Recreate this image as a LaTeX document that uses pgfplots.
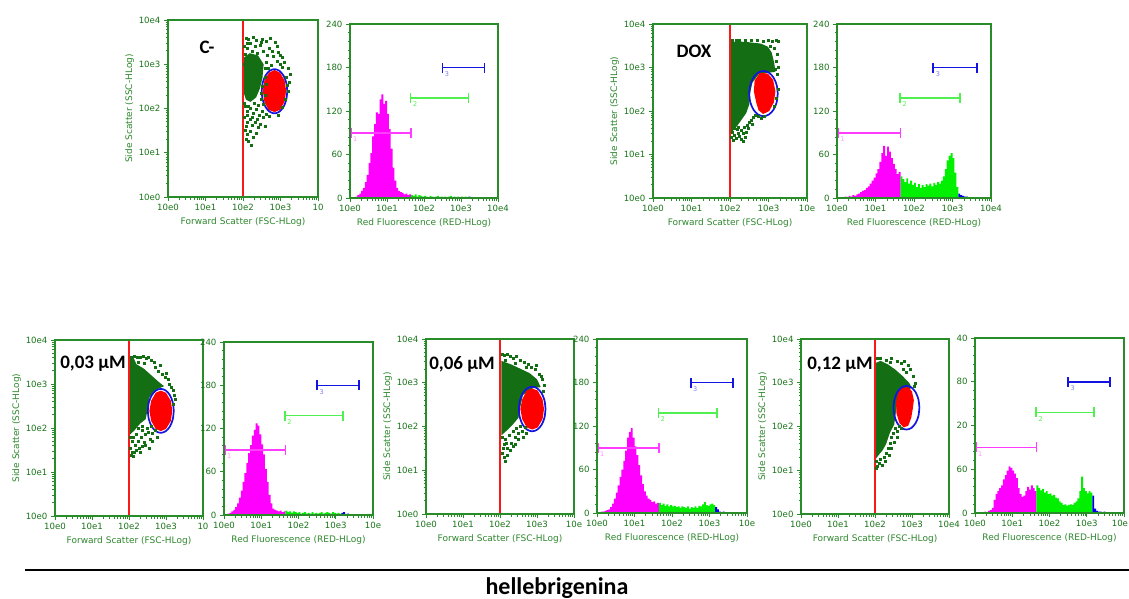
\documentclass[border=0pt]{standalone}
\usepackage{fontspec}
\setmainfont{Carlito}
\newfontfamily\dv{DejaVu Sans}
\usepackage{pgfplots}
\pgfplotsset{compat=1.18}

\definecolor{axg}{RGB}{40,140,40}
\definecolor{txg}{RGB}{25,115,25}
\definecolor{labg}{RGB}{45,135,45}
\definecolor{dotg}{RGB}{20,110,20}
\definecolor{hmag}{RGB}{255,0,255}
\definecolor{hgrn}{RGB}{0,240,0}
\definecolor{hblu}{RGB}{0,0,230}
\definecolor{gmag}{RGB}{255,60,255}
\definecolor{ggrn}{RGB}{80,240,80}
\definecolor{gblu}{RGB}{20,20,225}
\definecolor{rline}{RGB}{250,25,25}
\definecolor{rblob}{RGB}{255,0,0}

\pgfplotsset{
  fcs/.style={scale only axis, axis on top, xmin=0, xmax=4,
    axis line style={draw=axg, line width=1.3pt},
    tick style={draw=axg, line width=0.9pt},
    tick align=outside, tick pos=left,
    major tick length=4pt, minor tick length=2.5pt,
    tick label style={font=\dv\fontsize{8.6}{9}\selectfont, text=txg},
    label style={font=\dv\fontsize{9}{10}\selectfont, text=labg},
    xtick={0,1,2,3,4},
    minor xtick={0.301,0.477,0.602,0.699,0.778,0.845,0.903,0.954,
      1.301,1.477,1.602,1.699,1.778,1.845,1.903,1.954,
      2.301,2.477,2.602,2.699,2.778,2.845,2.903,2.954,
      3.301,3.477,3.602,3.699,3.778,3.845,3.903,3.954},
  },
  scat/.style={fcs, ymin=0, ymax=4, ytick={0,1,2,3,4},
    yticklabels={10e0,10e1,10e2,10e3,10e4},
    minor ytick={0.301,0.477,0.602,0.699,0.778,0.845,0.903,0.954,
      1.301,1.477,1.602,1.699,1.778,1.845,1.903,1.954,
      2.301,2.477,2.602,2.699,2.778,2.845,2.903,2.954,
      3.301,3.477,3.602,3.699,3.778,3.845,3.903,3.954},
    xlabel={Forward Scatter (FSC-HLog)}, ylabel={Side Scatter (SSC-HLog)},
    ylabel style={yshift=-2pt}},
  hist/.style={fcs, ymin=0, ymax=240, ytick={0,60,120,180,240},
    minor y tick num=4, xlabel={Red Fluorescence (RED-HLog)}},
  core/.style={fill=dotg, draw=none},
  dots/.style={only marks, mark=square*, mark size=1pt, dotg, mark options={draw=none}},
  blob/.style={fill=rblob, draw=none},
  gateline/.style={draw=rline, line width=1.6pt},
  ell/.style={gblu, line width=1.7pt, smooth},
  hm/.style={fill=hmag, draw=none, const plot mark left},
  hg/.style={fill=hgrn, draw=none, const plot mark left},
  hb/.style={fill=hblu, draw=none, const plot mark left},
}
\newcommand{\gates}{%
  \addplot[gmag, line width=1.5pt, |-|] coordinates {(0,90) (1.67,90)};
  \addplot[ggrn, line width=1.5pt, |-|] coordinates {(1.62,138) (3.22,138)};
  \addplot[gblu, line width=1.5pt, |-|] coordinates {(2.48,180) (3.65,180)};
  \node[font=\dv\fontsize{6.5}{7}\selectfont, text=gmag!55] at (axis cs:0.14,81) {1};
  \node[font=\dv\fontsize{6.5}{7}\selectfont, text=ggrn] at (axis cs:1.76,129) {2};
  \node[font=\dv\fontsize{6.5}{7}\selectfont, text=gblu!55] at (axis cs:2.62,171) {3};
}

\begin{document}
\begin{tikzpicture}
\path[use as bounding box] (0pt,0pt) rectangle (1129pt,-598pt);

% ---------- C- scatter
\begin{axis}[scat, at={(168pt,-197pt)}, anchor=south west, width=150pt, height=177pt,
  xticklabels={10e0,10e1,10e2,10e3,10}]
\addplot[core] coordinates {(2.02,3.15)(2.18,3.25)(2.4,3.2)(2.55,3.0)(2.52,2.7)(2.45,2.45)(2.35,2.25)(2.2,2.15)(2.08,2.2)(2.02,2.35)};
\addplot[dots] coordinates {(2.08,3.60)(2.15,3.57)(2.28,3.62)(2.35,3.54)(2.50,3.56)(2.62,3.52)(2.72,3.58)(2.85,3.50)(2.92,3.40)(2.20,3.47)(2.45,3.42)(2.70,3.36)(2.95,3.28)(3.05,3.15)(3.10,3.04)(3.20,2.90)(3.25,2.78)(3.15,2.70)(3.22,2.60)(2.05,3.22)(2.10,3.36)(2.25,3.30)(2.38,3.26)(2.55,3.30)(2.65,3.20)(2.80,3.18)(2.90,3.08)(2.98,3.00)(3.05,2.94)(2.02,3.00)(2.62,3.05)(2.68,2.90)(2.75,2.98)(2.60,2.70)(2.52,2.50)(2.05,2.05)(2.12,1.95)(2.20,2.00)(2.28,1.90)(2.35,1.98)(2.42,1.85)(2.50,1.95)(2.55,1.80)(2.62,1.88)(2.70,1.82)(2.03,1.80)(2.10,1.70)(2.18,1.75)(2.25,1.62)(2.32,1.70)(2.40,1.58)(2.05,1.50)(2.12,1.42)(2.20,1.48)(2.28,1.35)(2.15,1.25)(2.22,1.17)(2.08,1.30)(2.35,1.45)(2.45,1.65)(2.58,1.60)(3.18,2.52)(3.12,2.22)(3.05,2.02)(2.95,1.85)(3.20,2.38)(2.48,2.20)(2.40,2.08)(2.55,2.10)(2.02,2.12)(2.30,2.12)(2.15,2.05)(3.00,3.20)(2.78,3.30)(2.48,3.50)(2.33,3.40)(2.12,3.48)(2.02,3.40)(2.60,2.90)(2.58,2.30)(2.48,2.35)(2.62,2.55)(2.05,2.60)(2.12,1.85)(2.25,1.80)(2.38,1.75)(2.08,1.60)};
\addplot[blob] coordinates {(3.15,2.40)(3.11,2.63)(2.99,2.81)(2.84,2.87)(2.69,2.81)(2.57,2.63)(2.53,2.40)(2.57,2.15)(2.68,1.97)(2.84,1.92)(2.99,1.97)(3.11,2.16)};
\addplot[gateline] coordinates {(2,0) (2,4)};
\addplot[ell] coordinates {(3.18,2.39)(3.154,2.582)(3.08,2.744)(2.97,2.852)(2.84,2.89)(2.71,2.852)(2.60,2.744)(2.526,2.582)(2.50,2.39)(2.526,2.198)(2.60,2.036)(2.71,1.928)(2.84,1.89)(2.97,1.928)(3.08,2.036)(3.154,2.198)(3.18,2.39)};
\end{axis}

% ---------- C- histogram
\begin{axis}[hist, at={(350pt,-198pt)}, anchor=south west, width=148pt, height=174pt,
  xticklabels={10e0,10e1,10e2,10e3,10e4}, yticklabels={0,60,120,180,240}]
\addplot[hm] coordinates {(0,0)(0.05,0)(0.1,1)(0.15,2)(0.2,4)(0.25,6)(0.3,10)(0.35,14)(0.4,22)(0.45,32)(0.5,48)(0.55,62)(0.6,85)(0.65,102)(0.7,118)(0.75,116)(0.8,136)(0.85,143)(0.9,130)(0.95,134)(1.0,116)(1.05,95)(1.1,68)(1.15,42)(1.2,24)(1.25,14)(1.3,10)(1.35,8)(1.4,7)(1.45,5)(1.5,6)(1.55,4)(1.6,5)(1.65,5)} \closedcycle;
\addplot[hg] coordinates {(1.65,4)(1.7,3)(1.75,5)(1.8,2)(1.85,4)(1.9,3)(1.95,2)(2.0,3)(2.05,2)(2.1,1)(2.15,3)(2.2,2)(2.25,1)(2.3,2)(2.35,3)(2.4,1)(2.45,2)(2.5,1)(2.55,2)(2.6,1)(2.65,2)(2.7,3)(2.75,1)(2.8,2)(2.85,1)(2.9,2)(2.95,1)(3.0,2)(3.05,1)(3.1,2)(3.15,2)} \closedcycle;
\addplot[hb] coordinates {(3.15,1)(3.2,2)(3.25,1)(3.3,1)(3.35,0)(3.4,1)(3.45,0)(3.5,0)} \closedcycle;
\gates
\end{axis}

% ---------- DOX scatter
\begin{axis}[scat, at={(653pt,-198pt)}, anchor=south west, width=154pt, height=174pt,
  xticklabels={10e0,10e1,10e2,10e3,10e}]
\addplot[core] coordinates {(2.02,3.58)(2.2,3.6)(2.5,3.58)(2.8,3.55)(2.98,3.48)(3.08,3.35)(3.15,3.1)(3.18,2.9)(3.0,2.88)(2.75,2.85)(2.58,2.65)(2.52,2.4)(2.5,2.15)(2.42,1.95)(2.3,1.8)(2.18,1.65)(2.08,1.55)(2.02,1.5)};
\addplot[dots] coordinates {(2.05,3.62)(2.15,3.63)(2.25,3.62)(2.4,3.63)(2.55,3.62)(2.7,3.63)(2.85,3.6)(3.0,3.62)(3.1,3.6)(3.2,3.62)(3.25,3.6)(3.05,3.5)(3.15,3.45)(3.22,3.3)(3.2,3.15)(3.25,3.0)(3.22,2.85)(3.18,2.95)(2.04,1.40)(2.08,1.34)(2.12,1.45)(2.16,1.38)(2.2,1.5)(2.25,1.42)(2.3,1.55)(2.34,1.48)(2.38,1.62)(2.42,1.52)(2.45,1.68)(2.5,1.75)(2.55,1.8)(2.6,1.85)(2.48,1.6)(2.28,1.35)(2.35,1.3)(2.4,1.4)(2.18,1.58)(2.1,1.6)(2.65,1.9)(2.72,1.88)(2.8,1.84)(2.9,1.88)(2.58,1.7)(2.06,1.52)(2.22,1.62)(3.25,2.5)(3.2,2.3)(3.15,2.1)};
\addplot[blob] coordinates {(2.78,2.88)(2.98,2.86)(3.12,2.72)(3.18,2.45)(3.14,2.2)(3.02,2.0)(2.86,1.93)(2.74,2.02)(2.68,2.2)(2.62,2.45)(2.64,2.7)};
\addplot[gateline] coordinates {(2,0) (2,4)};
\addplot[ell] coordinates {(3.24,2.40)(3.212,2.599)(3.132,2.768)(3.012,2.88)(2.87,2.92)(2.728,2.88)(2.608,2.768)(2.528,2.599)(2.50,2.40)(2.528,2.201)(2.608,2.032)(2.728,1.92)(2.87,1.88)(3.012,1.92)(3.132,2.032)(3.212,2.201)(3.24,2.40)};
\end{axis}

% ---------- DOX histogram
\begin{axis}[hist, at={(837pt,-198pt)}, anchor=south west, width=154pt, height=174pt,
  xticklabels={10e0,10e1,10e2,10e3,10e4}, yticklabels={0,60,120,180,240}]
\addplot[hm] coordinates {(0,0)(0.05,0)(0.1,1)(0.15,1)(0.2,2)(0.25,1)(0.3,3)(0.35,2)(0.4,4)(0.45,3)(0.5,5)(0.55,6)(0.6,8)(0.65,10)(0.7,11)(0.75,14)(0.8,16)(0.85,20)(0.9,24)(0.95,28)(1.0,34)(1.05,40)(1.1,50)(1.15,62)(1.2,72)(1.25,58)(1.3,71)(1.35,64)(1.4,55)(1.45,47)(1.5,40)(1.55,33)(1.6,36)(1.65,36)} \closedcycle;
\addplot[hg] coordinates {(1.65,30)(1.7,26)(1.75,22)(1.8,27)(1.85,20)(1.9,24)(1.95,18)(2.0,21)(2.05,15)(2.1,19)(2.15,14)(2.2,18)(2.25,15)(2.3,19)(2.35,17)(2.4,20)(2.45,16)(2.5,21)(2.55,18)(2.6,22)(2.65,20)(2.7,24)(2.75,30)(2.8,40)(2.85,52)(2.9,58)(2.95,62)(3.0,55)(3.05,35)(3.1,15)(3.15,15)} \closedcycle;
\addplot[hb] coordinates {(3.15,6)(3.2,4)(3.25,3)(3.3,2)(3.35,2)(3.4,1)(3.45,1)(3.5,1)} \closedcycle;
\gates
\end{axis}

% ---------- 0,03 scatter
\begin{axis}[scat, at={(55pt,-516pt)}, anchor=south west, width=148pt, height=176pt,
  xticklabels={10e0,10e1,10e2,10e3,10}]
\addplot[core] coordinates {(2.03,3.6)(2.12,3.6)(2.2,3.45)(2.4,3.35)(2.6,3.2)(2.8,3.05)(2.95,2.95)(2.75,2.88)(2.55,2.7)(2.5,2.4)(2.45,2.2)(2.3,2.1)(2.15,1.95)(2.03,1.85)};
\addplot[dots] coordinates {(2.06,3.62)(2.14,3.63)(2.22,3.62)(2.3,3.6)(2.38,3.63)(2.46,3.58)(2.52,3.62)(2.6,3.55)(2.68,3.5)(2.25,3.5)(2.42,3.48)(2.7,3.38)(2.8,3.3)(2.9,3.22)(2.98,3.15)(3.05,3.1)(3.1,3.0)(3.15,2.92)(3.2,2.85)(3.22,2.75)(3.24,2.65)(3.2,2.55)(3.0,3.25)(2.85,3.42)(2.04,1.8)(2.08,1.7)(2.12,1.78)(2.16,1.62)(2.2,1.85)(2.24,1.7)(2.28,1.55)(2.32,1.8)(2.36,1.95)(2.4,1.68)(2.44,1.85)(2.48,2.0)(2.52,1.9)(2.56,1.75)(2.6,2.05)(2.64,1.88)(2.7,1.95)(2.75,1.8)(2.04,1.55)(2.08,1.45)(2.12,1.35)(2.2,1.5)(2.3,1.45)(2.36,1.58)(2.05,1.38)(2.15,1.45)(2.45,1.62)(2.55,1.55)(2.62,1.7)(2.25,2.0)(2.35,2.05)};
\addplot[blob] coordinates {(3.17,2.39)(3.13,2.62)(3.0,2.80)(2.86,2.85)(2.72,2.80)(2.60,2.62)(2.55,2.39)(2.60,2.16)(2.72,1.98)(2.86,1.93)(3.0,1.98)(3.13,2.16)};
\addplot[gateline] coordinates {(2,0) (2,4)};
\addplot[ell] coordinates {(3.21,2.39)(3.183,2.582)(3.107,2.744)(2.994,2.852)(2.86,2.89)(2.726,2.852)(2.613,2.744)(2.537,2.582)(2.51,2.39)(2.537,2.198)(2.613,2.036)(2.726,1.928)(2.86,1.89)(2.994,1.928)(3.107,2.036)(3.183,2.198)(3.21,2.39)};
\end{axis}

% ---------- 0,03 histogram
\begin{axis}[hist, at={(224pt,-515pt)}, anchor=south west, width=149pt, height=173pt,
  xticklabels={10e0,10e1,10e2,10e3,10e}, yticklabels={0,60,120,180,240}]
\addplot[hm] coordinates {(0,0)(0.05,1)(0.1,2)(0.15,3)(0.2,5)(0.25,7)(0.3,11)(0.35,16)(0.4,24)(0.45,34)(0.5,46)(0.55,58)(0.6,72)(0.65,86)(0.7,97)(0.75,110)(0.8,118)(0.85,127)(0.9,124)(0.95,112)(1.0,98)(1.05,84)(1.1,64)(1.15,46)(1.2,28)(1.25,16)(1.3,9)(1.35,7)(1.4,6)(1.45,5)(1.5,6)(1.55,4)(1.6,5)(1.65,5)} \closedcycle;
\addplot[hg] coordinates {(1.65,6)(1.7,4)(1.75,5)(1.8,3)(1.85,5)(1.9,4)(1.95,3)(2.0,4)(2.05,2)(2.1,3)(2.15,4)(2.2,2)(2.25,3)(2.3,2)(2.35,4)(2.4,2)(2.45,3)(2.5,2)(2.55,3)(2.6,4)(2.65,2)(2.7,3)(2.75,4)(2.8,3)(2.85,2)(2.9,4)(2.95,3)(3.0,2)(3.05,3)(3.1,2)(3.15,2)} \closedcycle;
\addplot[hb] coordinates {(3.15,3)(3.2,4)(3.25,1)(3.3,2)(3.35,1)(3.4,1)} \closedcycle;
\gates
\end{axis}

% ---------- 0,06 scatter
\begin{axis}[scat, at={(426pt,-514pt)}, anchor=south west, width=148pt, height=175pt,
  xticklabels={10e0,10e1,10e2,10e3,10e}]
\addplot[core] coordinates {(2.04,3.5)(2.3,3.42)(2.55,3.32)(2.8,3.22)(3.0,3.08)(3.1,2.9)(2.9,2.88)(2.62,2.72)(2.55,2.45)(2.5,2.2)(2.35,2.05)(2.2,1.92)(2.04,1.8)};
\addplot[dots] coordinates {(2.05,3.65)(2.12,3.62)(2.2,3.66)(2.28,3.6)(2.36,3.55)(2.45,3.6)(2.55,3.52)(2.65,3.48)(2.75,3.42)(2.85,3.35)(2.95,3.3)(3.05,3.2)(3.15,3.08)(3.2,2.95)(2.15,3.52)(2.4,3.45)(2.7,3.36)(3.1,3.15)(2.98,3.4)(3.18,2.8)(2.05,1.75)(2.1,1.6)(2.15,1.72)(2.2,1.5)(2.25,1.8)(2.3,1.62)(2.35,1.9)(2.4,1.75)(2.45,1.95)(2.5,1.85)(2.55,2.0)(2.6,1.9)(2.68,1.98)(2.72,1.85)(2.05,1.4)(2.1,1.3)(2.15,1.2)(2.2,1.35)(2.28,1.45)(2.35,1.55)(2.42,1.6)(2.5,1.7)(2.08,1.5)(2.62,1.75)(2.18,1.62)};
\addplot[blob] coordinates {(3.19,2.40)(3.15,2.62)(3.02,2.82)(2.87,2.87)(2.72,2.82)(2.60,2.62)(2.55,2.40)(2.60,2.17)(2.72,1.98)(2.87,1.93)(3.02,1.98)(3.15,2.17)};
\addplot[gateline] coordinates {(2,0) (2,4)};
\addplot[ell] coordinates {(3.23,2.40)(3.203,2.595)(3.125,2.761)(3.008,2.871)(2.87,2.91)(2.732,2.871)(2.615,2.761)(2.537,2.595)(2.51,2.40)(2.537,2.205)(2.615,2.039)(2.732,1.929)(2.87,1.89)(3.008,1.929)(3.125,2.039)(3.203,2.205)(3.23,2.40)};
\end{axis}

% ---------- 0,06 histogram
\begin{axis}[hist, at={(597pt,-513pt)}, anchor=south west, width=150pt, height=174pt,
  xticklabels={10e0,10e1,10e2,10e3,10e}, yticklabels={0,60,120,180,240}]
\addplot[hm] coordinates {(0,0)(0.05,1)(0.1,2)(0.15,2)(0.2,3)(0.25,4)(0.3,5)(0.35,8)(0.4,13)(0.45,20)(0.5,28)(0.55,38)(0.6,50)(0.65,60)(0.7,72)(0.75,86)(0.8,104)(0.85,112)(0.9,117)(0.95,104)(1.0,92)(1.05,80)(1.1,66)(1.15,52)(1.2,40)(1.25,30)(1.3,24)(1.35,20)(1.4,18)(1.45,15)(1.5,16)(1.55,13)(1.6,14)(1.65,14)} \closedcycle;
\addplot[hg] coordinates {(1.65,14)(1.7,11)(1.75,13)(1.8,10)(1.85,12)(1.9,9)(1.95,11)(2.0,9)(2.05,10)(2.1,8)(2.15,9)(2.2,7)(2.25,9)(2.3,8)(2.35,7)(2.4,9)(2.45,6)(2.5,8)(2.55,7)(2.6,9)(2.65,7)(2.7,10)(2.75,9)(2.8,12)(2.85,15)(2.9,11)(2.95,10)(3.0,12)(3.05,13)(3.1,11)(3.15,11)} \closedcycle;
\addplot[hb] coordinates {(3.15,8)(3.2,5)(3.25,2)(3.3,1)(3.35,2)(3.4,1)(3.45,1)(3.5,1)} \closedcycle;
\gates
\end{axis}

% ---------- 0,12 scatter
\begin{axis}[scat, at={(801pt,-514pt)}, anchor=south west, width=148pt, height=175pt,
  xticklabels={10e0,10e1,10e2,10e3,10e4}]
\addplot[core] coordinates {(2.01,3.45)(2.15,3.5)(2.35,3.42)(2.55,3.3)(2.75,3.15)(2.92,3.0)(3.0,2.88)(2.8,2.82)(2.62,2.62)(2.56,2.3)(2.52,2.05)(2.4,1.85)(2.3,1.6)(2.2,1.45)(2.1,1.35)(2.01,1.25)};
\addplot[dots] coordinates {(2.05,3.55)(2.15,3.57)(2.3,3.52)(2.45,3.55)(2.6,3.5)(2.7,3.45)(2.8,3.5)(2.9,3.4)(2.95,3.3)(3.02,3.15)(3.08,3.0)(3.05,2.92)(2.85,3.25)(2.75,3.32)(2.4,3.48)(2.04,1.2)(2.06,1.1)(2.1,1.15)(2.15,1.25)(2.2,1.12)(2.25,1.3)(2.3,1.4)(2.35,1.5)(2.4,1.62)(2.45,1.75)(2.5,1.85)(2.55,1.95)(2.6,1.9)(2.65,2.0)(2.38,1.35)(2.45,1.5)(2.28,1.2)(2.04,1.05)(2.52,1.65)(2.6,1.75)(2.7,1.95)};
\addplot[blob] coordinates {(2.72,2.88)(2.9,2.9)(3.0,2.8)(3.05,2.6)(3.02,2.4)(2.98,2.2)(2.9,2.02)(2.78,1.98)(2.66,2.08)(2.58,2.3)(2.57,2.55)(2.62,2.75)};
\addplot[ell] coordinates {(3.20,2.43)(3.173,2.622)(3.097,2.784)(2.984,2.892)(2.85,2.93)(2.716,2.892)(2.603,2.784)(2.527,2.622)(2.50,2.43)(2.527,2.238)(2.603,2.076)(2.716,1.968)(2.85,1.93)(2.984,1.968)(3.097,2.076)(3.173,2.238)(3.20,2.43)};
\addplot[gateline] coordinates {(2,0) (2,4)};
\end{axis}

% ---------- 0,12 histogram
\begin{axis}[hist, at={(975pt,-513pt)}, anchor=south west, width=149pt, height=175pt,
  xticklabels={10e0,10e1,10e2,10e3,\llap{10e\kern-4pt}}, yticklabels={0,60,20,80,40}]
\addplot[hm] coordinates {(0,0)(0.05,0)(0.1,1)(0.15,1)(0.2,1)(0.25,2)(0.3,1)(0.35,3)(0.4,4)(0.45,7)(0.5,18)(0.55,26)(0.6,30)(0.65,34)(0.7,38)(0.75,46)(0.8,52)(0.85,58)(0.9,64)(0.95,62)(1.0,58)(1.05,54)(1.1,48)(1.15,34)(1.2,26)(1.25,22)(1.3,24)(1.35,30)(1.4,36)(1.45,32)(1.5,38)(1.55,34)(1.6,30)(1.65,30)} \closedcycle;
\addplot[hg] coordinates {(1.65,38)(1.7,34)(1.75,31)(1.8,33)(1.85,28)(1.9,30)(1.95,26)(2.0,27)(2.05,24)(2.1,25)(2.15,21)(2.2,20)(2.25,16)(2.3,14)(2.35,11)(2.4,12)(2.45,10)(2.5,11)(2.55,12)(2.6,11)(2.65,14)(2.7,16)(2.75,20)(2.8,30)(2.85,50)(2.9,34)(2.95,30)(3.0,27)(3.05,30)(3.1,28)(3.15,28)} \closedcycle;
\addplot[hb] coordinates {(3.15,24)(3.2,6)(3.25,3)(3.3,2)(3.35,2)(3.4,1)(3.45,2)(3.5,2)} \closedcycle;
\gates
\end{axis}

% ---------- panel labels, rule and title
\node[font=\bfseries\fontsize{19}{21}\selectfont] at (207pt,-47pt) {C-};
\node[font=\bfseries\fontsize{19}{21}\selectfont] at (694pt,-51pt) {DOX};
\node[font=\bfseries\fontsize{19}{21}\selectfont] at (93pt,-364pt) {0,03 µM};
\node[font=\bfseries\fontsize{19}{21}\selectfont] at (462pt,-364pt) {0,06 µM};
\node[font=\bfseries\fontsize{19}{21}\selectfont] at (840pt,-365pt) {0,12 µM};
\draw[line width=2.5pt] (25pt,-570pt) -- (1129pt,-570pt);
\node[font=\bfseries\fontsize{24}{26}\selectfont, anchor=base] at (557pt,-594pt) {hellebrigenina};
\end{tikzpicture}
\end{document}
